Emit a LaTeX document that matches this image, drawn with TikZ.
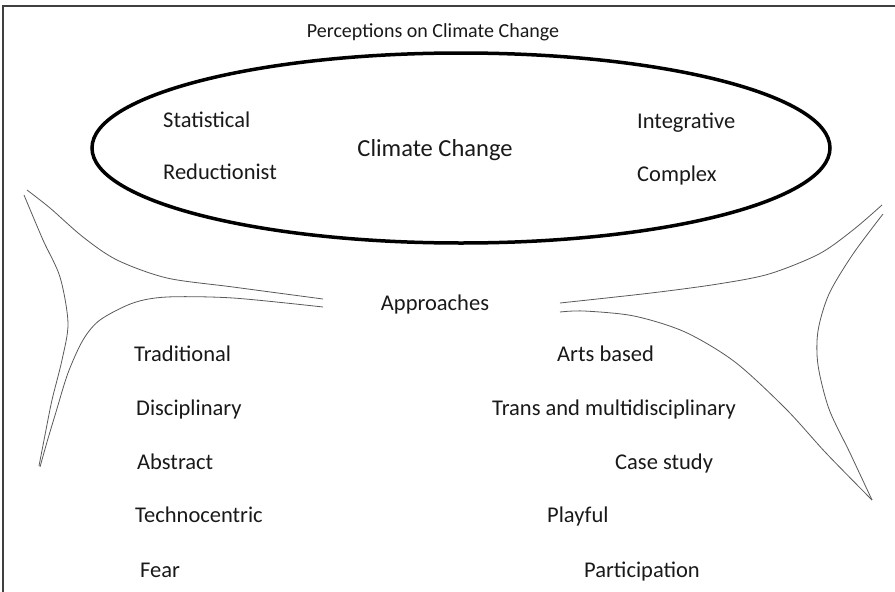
\documentclass[tikz,border=0pt]{standalone}
\usepackage{fontspec}
\setmainfont{Carlito}

\begin{document}
\begin{tikzpicture}[x=1pt,y=-1pt,
    word/.style={font=\fontsize{22.5}{27}\selectfont, text=black!90, inner sep=0pt, anchor=base west},
    horn/.style={black!65, line width=0.8pt}]
  \useasboundingbox (0,0) rectangle (895,592);
  % frame
  \draw[black!75, line width=1.2pt] (3,592) -- (3,6) -- (895,6);

  \node[word, font=\fontsize{20}{24}\selectfont, anchor=base] (title) at (433,37) {Perceptions on Climate Change};

  % the big ellipse
  \draw[line width=3.5pt] (461,148) ellipse [x radius=369, y radius=95];
  \node[word, font=\fontsize{24.5}{29}\selectfont, anchor=base] (cc) at (435,156) {Climate Change};
  \node[word] (stat) at (163,127) {Statistical};
  \node[word] (red)  at (163,179) {Reductionist};
  \node[word] (integ) at (637,128) {Integrative};
  \node[word] (compl) at (637,181) {Complex};

  % left horn
  \draw[horn] plot[smooth] coordinates {(27,190) (50,208) (83,237) (117,260) (167,278) (233,287) (323,299)};
  \draw[horn] plot[smooth] coordinates {(323,307) (233,298) (167,297) (133,303) (100,320) (83,340) (68,373) (56,412) (47,442) (40,467)};
  \draw[horn] plot[smooth] coordinates {(24,195) (43,240) (60,277) (68,323) (62,360) (52,400) (45,435) (39,466)};

  % right horn
  \draw[horn] plot[smooth] coordinates {(560,303) (651,293) (718,284) (769,274) (819,254) (853,230) (882,205)};
  \draw[horn] plot[smooth] coordinates {(560,312) (584,311) (634,316) (685,332) (735,362) (786,409) (826,453) (872,500)};
  \draw[horn] plot[smooth] coordinates {(883,214) (853,254) (829,294) (818,331) (818,365) (829,409) (850,453) (872,500)};

  \node[word, anchor=base] (appr) at (435,310) {Approaches};

  % left column
  \node[word] (trad)  at (134,361) {Traditional};
  \node[word] (disc)  at (136,415) {Disciplinary};
  \node[word] (abstr) at (137,469) {Abstract};
  \node[word] (tech)  at (135,522) {Technocentric};
  \node[word] (fear)  at (140,577) {Fear};

  % right column
  \node[word] (arts)  at (557,361) {Arts based};
  \node[word] (trans) at (492,415) {Trans and multidisciplinary};
  \node[word] (case)  at (615,469) {Case study};
  \node[word] (play)  at (547,522) {Playful};
  \node[word] (part)  at (584,577) {Participation};
\end{tikzpicture}
\end{document}
